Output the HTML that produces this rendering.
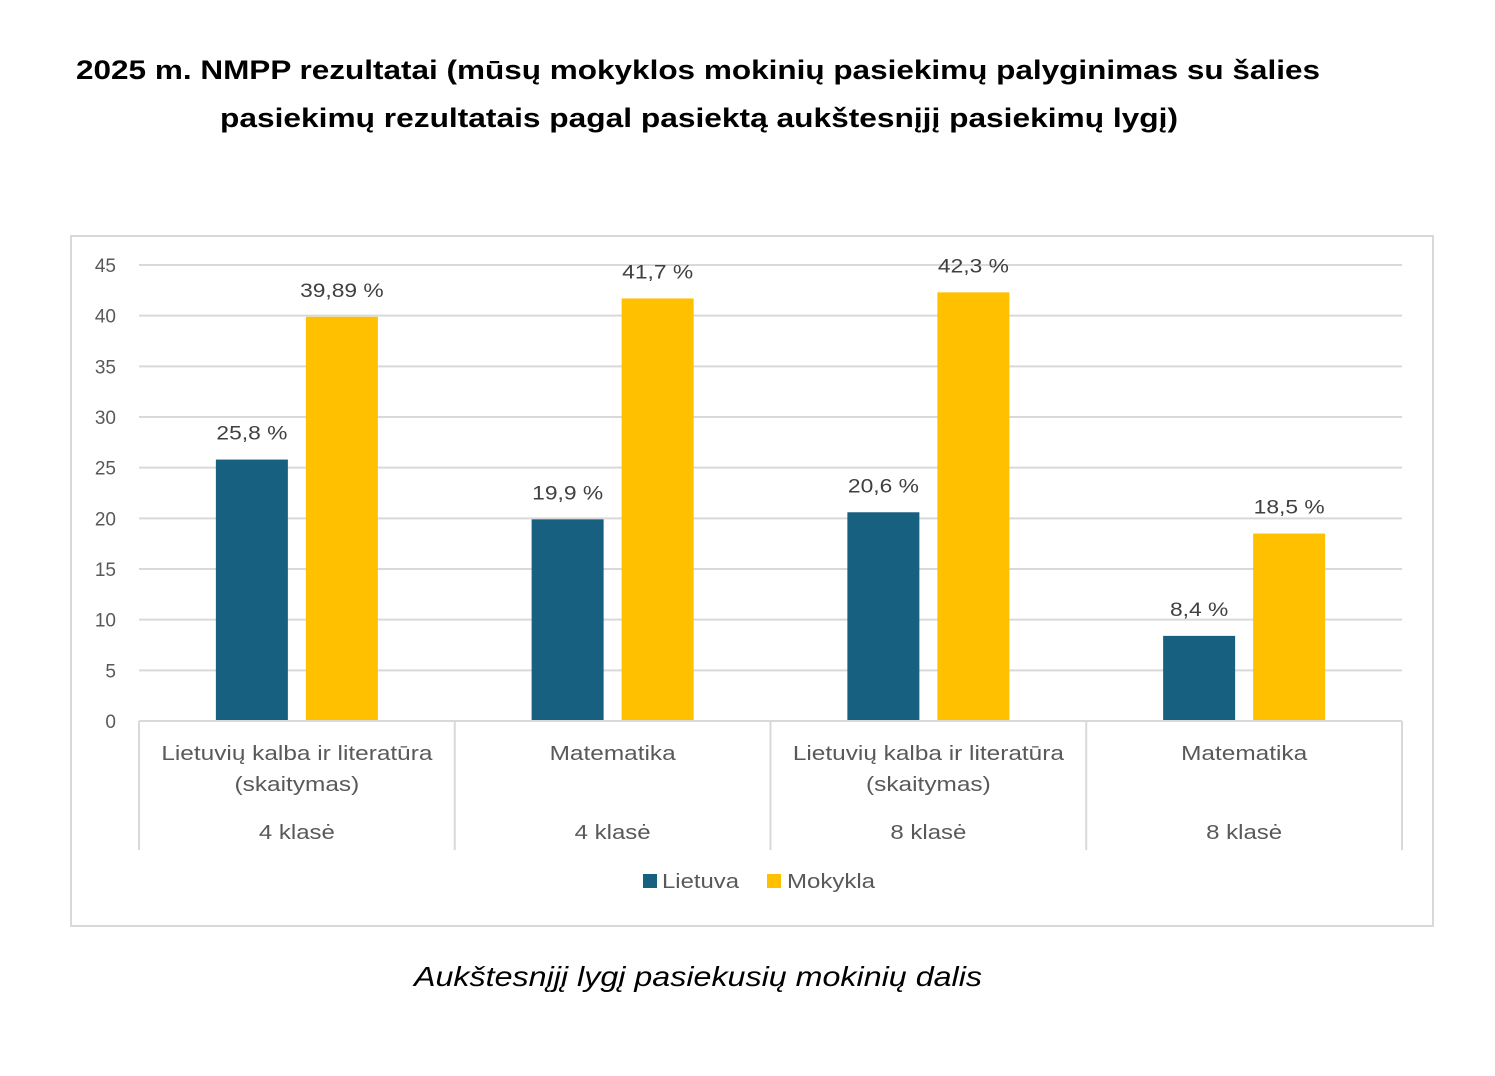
<!DOCTYPE html>
<html><head><meta charset="utf-8"><style>
body{margin:0;background:#fff;font-family:"Liberation Sans","DejaVu Sans",sans-serif}
</style></head><body>
<svg width="1495" height="1071" viewBox="0 0 1495 1071" xmlns="http://www.w3.org/2000/svg">
<text x="76" y="79" textLength="1244" lengthAdjust="spacingAndGlyphs" font-size="27" font-weight="bold" fill="#000">2025 m. NMPP rezultatai (mūsų mokyklos mokinių pasiekimų palyginimas su šalies</text>
<text x="220" y="127" textLength="958" lengthAdjust="spacingAndGlyphs" font-size="27" font-weight="bold" fill="#000">pasiekimų rezultatais pagal pasiektą aukštesnįjį pasiekimų lygį)</text>
<rect x="71" y="236" width="1362" height="690" fill="#fff" stroke="#d9d9d9" stroke-width="2"/>
<g id="grid"></g>
<g id="yticks"></g>
<g id="bars"></g>
<g id="xaxis"></g>
<g>
<rect x="643" y="874" width="14" height="14" fill="#17607f"/>
<text x="662" y="888" textLength="77" lengthAdjust="spacingAndGlyphs" font-size="20" fill="#595959">Lietuva</text>
<rect x="767" y="874" width="14" height="14" fill="#ffc000"/>
<text x="787" y="888" textLength="88" lengthAdjust="spacingAndGlyphs" font-size="20" fill="#595959">Mokykla</text>
</g>
<text x="414" y="986" textLength="568" lengthAdjust="spacingAndGlyphs" font-size="28" font-style="italic" fill="#000">Aukštesnįjį lygį pasiekusių mokinių dalis</text>
</svg>
<script>
const categories=[["Lietuvių kalba ir literatūra","(skaitymas)"],["Matematika"],["Lietuvių kalba ir literatūra","(skaitymas)"],["Matematika"]];
const groups=["4 klasė","4 klasė","8 klasė","8 klasė"];
const lietuva=[25.8,19.9,20.6,8.4];
const mokykla=[39.89,41.7,42.3,18.5];
const lietuvaLabels=["25,8 %","19,9 %","20,6 %","8,4 %"];
const mokyklaLabels=["39,89 %","41,7 %","42,3 %","18,5 %"];
const yTicks=[0,5,10,15,20,25,30,35,40,45];
const NS="http://www.w3.org/2000/svg";
const x0=139,x1=1402,yBase=721,yTop=265,yMax=45;
const y=v=>yBase-(v/yMax)*(yBase-yTop);
const cw=(x1-x0)/categories.length;
function mk(tag,attrs,parent,text){const e=document.createElementNS(NS,tag);for(const k in attrs)e.setAttribute(k,attrs[k]);if(text!==undefined)e.textContent=text;parent.appendChild(e);return e;}
const grid=document.getElementById('grid'),yt=document.getElementById('yticks'),bars=document.getElementById('bars'),xa=document.getElementById('xaxis');
// centered text widened horizontally to match wider reference font
function ctext(cx,cy,str,size,fill,scale,parent){
 const g=mk('g',{transform:`translate(${cx},${cy}) scale(${scale},1)`},parent);
 return mk('text',{x:0,y:0,'text-anchor':'middle','font-size':size,fill:fill},g,str);
}
yTicks.forEach(t=>{
 const l=mk('line',{x1:x0,x2:x1,y1:y(t),y2:y(t),stroke:'#d9d9d9','stroke-width':2},grid);
 
 
 const tx=mk('text',{x:116,y:y(t)+7,'text-anchor':'end','font-size':19,fill:'#595959'},yt,String(t));
 
 
});
const bw=72,gap=18;
categories.forEach((c,i)=>{
 const cx=x0+cw*i+cw/2;
 const lx=cx-gap/2-bw, mx=cx+gap/2;
 const b1=mk('rect',{x:lx,y:y(lietuva[i]),width:bw,height:yBase-y(lietuva[i]),fill:'#17607f'},bars);
 
 
 const b2=mk('rect',{x:mx,y:y(mokykla[i]),width:bw,height:yBase-y(mokykla[i]),fill:'#ffc000'},bars);
 
 
 const t1=ctext(lx+bw/2,y(lietuva[i])-20,lietuvaLabels[i],19,'#404040',1.2,bars);
 
 
 const t2=ctext(mx+bw/2,y(mokykla[i])-20,mokyklaLabels[i],19,'#404040',1.2,bars);
 
 
 c.forEach((line,j)=>{
  const ct=ctext(cx,760+j*31,line,20,'#595959',1.22,xa);
  
  
 });
 const gt=ctext(cx,839,groups[i],20,'#595959',1.2,xa);
 
 
});
for(let i=0;i<=categories.length;i++){
 const sx=x0+cw*i;
 const s=mk('line',{x1:sx,x2:sx,y1:yBase,y2:850,stroke:'#d9d9d9','stroke-width':2},xa);
 
 
}
const ax=mk('line',{x1:x0,x2:x1,y1:yBase,y2:yBase,stroke:'#d9d9d9','stroke-width':2},xa);


</script>
</body></html>
